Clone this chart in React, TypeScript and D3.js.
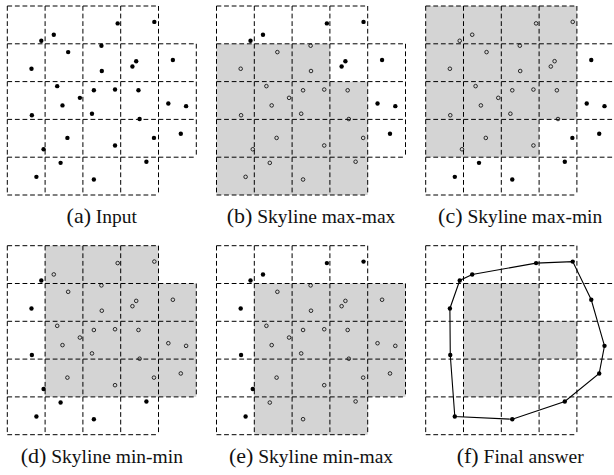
import * as d3 from "d3";

// point set, in grid units (x = column, y = row counted from the top)
const pointX = [0.9, 1.23, 2.92, 3.89, 1.61, 2.49, 0.64, 2.5, 3.41, 3.31, 4.38, 1.32, 2.29, 2.85, 3.47, 1.92, 1.46, 4.26, 4.73, 0.65, 2.24, 3.5, 1.59, 3.88, 4.59, 0.96, 2.85, 1.41, 3.68, 0.77, 2.29];
const pointY = [0.92, 0.76, 0.46, 0.42, 1.22, 1.05, 1.66, 1.72, 1.46, 1.6, 1.43, 2.12, 2.23, 2.21, 2.23, 2.43, 2.63, 2.58, 2.65, 2.89, 2.85, 2.99, 3.49, 3.49, 3.38, 3.79, 3.69, 4.15, 4.12, 4.52, 4.59];

// which columns each row of the grid covers: [first, last]
const gridRows: [number, number][] = [[0, 3], [0, 4], [0, 4], [0, 4], [0, 3]];

const panelLetters = ["a", "b", "c", "d", "e", "f"];
const panelNames = ["Input", "Skyline max-max", "Skyline max-min", "Skyline min-min", "Skyline min-max", "Final answer"];

// shaded columns per row for every panel (null = nothing shaded)
const shaded: ([number, number] | null)[][] = [
  [null, null, null, null, null],
  [null, [0, 2], [0, 3], [0, 3], [0, 3]],
  [[0, 3], [0, 3], [0, 3], [0, 2], null],
  [[1, 3], [1, 4], [1, 4], [1, 4], null],
  [null, [1, 4], [1, 4], [1, 4], [1, 3]],
  [null, [1, 2], [1, 3], [1, 2], null],
];

const cell = 37.8;
const colX = [7.3, 216.5, 425.7];
const rowY = [6, 245.7];
const labelY = [222.7, 462.5];

function Panel({ idx }: { idx: number }) {
  const ox = colX[idx % 3];
  const oy = rowY[Math.floor(idx / 3)];
  const x = d3.scaleLinear().domain([0, 5]).range([ox, ox + 5 * cell]);
  const y = d3.scaleLinear().domain([0, 5]).range([oy, oy + 5 * cell]);
  const spans = shaded[idx];

  const isShaded = (px: number, py: number) => {
    const r = Math.floor(py);
    const c = Math.floor(px);
    const s = spans[r];
    return !!s && c >= s[0] && c <= s[1];
  };

  // grid edges, one segment per cell side, deduplicated
  const edges = new Map<string, [number, number, number, number]>();
  gridRows.forEach(([c0, c1], r) => {
    for (let c = c0; c <= c1; c++) {
      edges.set(`h${r},${c}`, [c, r, c + 1, r]);
      edges.set(`h${r + 1},${c}`, [c, r + 1, c + 1, r + 1]);
      edges.set(`v${r},${c}`, [c, r, c, r + 1]);
      edges.set(`v${r},${c + 1}`, [c + 1, r, c + 1, r + 1]);
    }
  });

  const pts: [number, number][] = pointX.map((d, i) => [d, pointY[i]]);
  const hull = idx === 5 ? d3.polygonHull(pts) : null;
  const line = d3.line<[number, number]>().x((d) => x(d[0])).y((d) => y(d[1]));

  return (
    <g>
      {spans.map((s, r) =>
        s ? (
          <rect key={r} x={x(s[0])} y={y(r)} width={x(s[1] + 1) - x(s[0])} height={y(r + 1) - y(r)} fill="#d4d4d4" />
        ) : null
      )}
      {Array.from(edges.values()).map(([x1, y1, x2, y2], i) => (
        <line key={i} x1={x(x1)} y1={y(y1)} x2={x(x2)} y2={y(y2)} stroke="#000" strokeWidth={1} strokeDasharray="4.8,2.8" />
      ))}
      {hull ? (
        <g>
          <path d={line(hull)! + "Z"} fill="none" stroke="#000" strokeWidth={1.1} />
          {hull.map((d, i) => (
            <circle key={i} cx={x(d[0])} cy={y(d[1])} r={2.2} fill="#000" />
          ))}
        </g>
      ) : (
        pts.map((d, i) =>
          idx > 0 && isShaded(d[0], d[1]) ? (
            <circle key={i} cx={x(d[0])} cy={y(d[1])} r={1.8} fill="none" stroke="#000" strokeWidth={0.8} />
          ) : (
            <circle key={i} cx={x(d[0])} cy={y(d[1])} r={2.2} fill="#000" />
          )
        )
      )}
      <text x={ox + 2.5 * cell} y={labelY[Math.floor(idx / 3)]} textAnchor="middle" fontFamily="Liberation Serif" fill="#111">
        <tspan fontSize={22}>({panelLetters[idx]})</tspan>
        <tspan fontSize={19.5}> {panelNames[idx]}</tspan>
      </text>
    </g>
  );
}

export default function App() {
  return (
    <svg width={614} height={475} style={{ position: "absolute", left: 0, top: 0, background: "#fff" }}>
      {panelLetters.map((_, i) => (
        <Panel key={i} idx={i} />
      ))}
    </svg>
  );
}
